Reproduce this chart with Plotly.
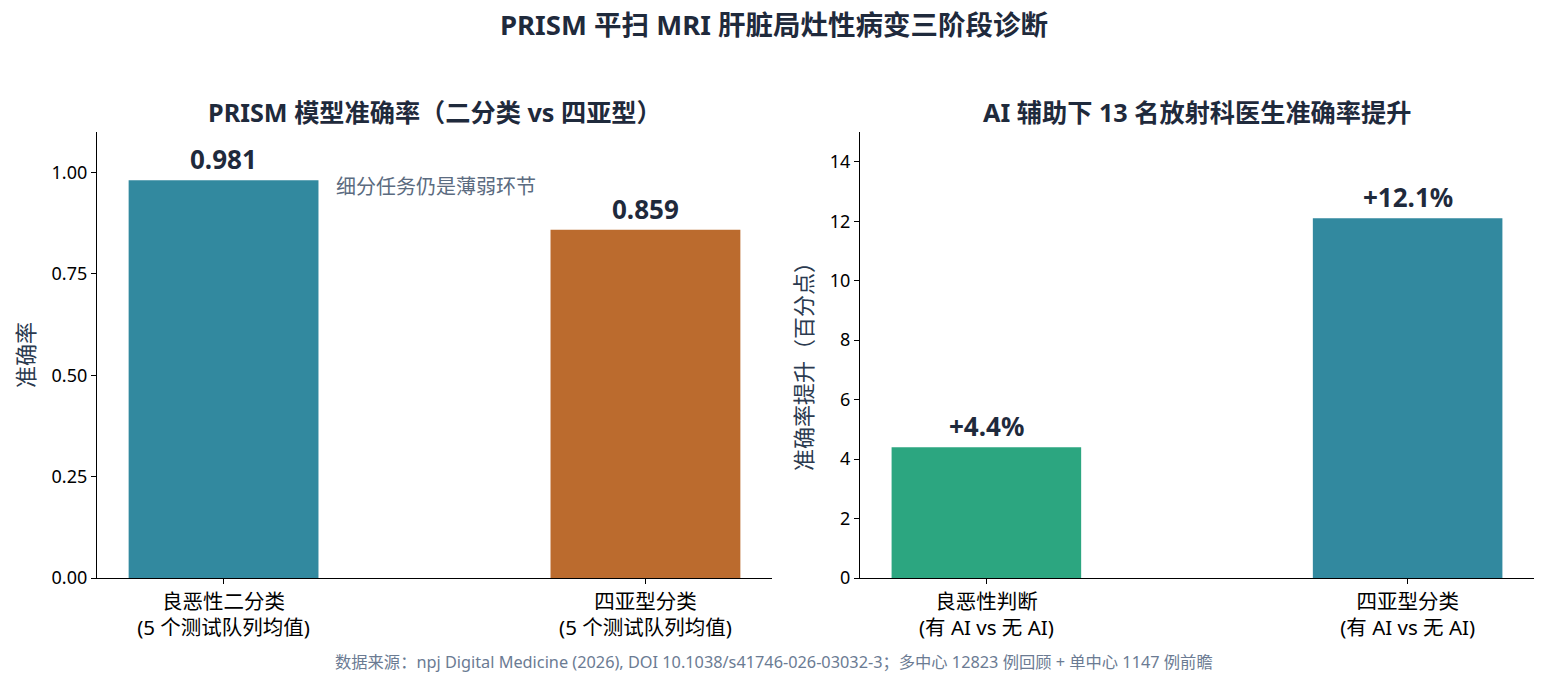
import plotly.graph_objects as go
from plotly.subplots import make_subplots

# 左图：PRISM 模型准确率
acc_labels = ["良恶性二分类<br>(5 个测试队列均值)", "四亚型分类<br>(5 个测试队列均值)"]
acc_values = [0.981, 0.859]
acc_text = ["0.981", "0.859"]
acc_colors = ["#32899f", "#bb6b2e"]

# 右图：AI 辅助下准确率提升（百分点）
gain_labels = ["良恶性判断<br>(有 AI vs 无 AI)", "四亚型分类<br>(有 AI vs 无 AI)"]
gain_values = [4.4, 12.1]
gain_text = ["+4.4%", "+12.1%"]
gain_colors = ["#2ca680", "#32899f"]

FONT = "Noto Sans, Noto Sans CJK SC, sans-serif"
DARK = "#1f2a3c"
W, H = 1547, 685


def paper_text(x_px, y_px, text, size, color, angle=0):
    # place a free text by pixel position on the full figure
    fig.add_annotation(x=x_px / W, y=1 - y_px / H, xref="paper", yref="paper",
                       text=text, showarrow=False, xanchor="center", yanchor="middle",
                       textangle=angle, font=dict(size=size, color=color, family=FONT))


fig = make_subplots(rows=1, cols=2)

fig.add_trace(go.Bar(x=list(range(len(acc_values))), y=acc_values,
                     marker=dict(color=acc_colors, line=dict(width=0)),
                     width=0.45, showlegend=False, hoverinfo="y"), row=1, col=1)
fig.add_trace(go.Bar(x=list(range(len(gain_values))), y=gain_values,
                     marker=dict(color=gain_colors, line=dict(width=0)),
                     width=0.45, showlegend=False, hoverinfo="y"), row=1, col=2)

# value labels above bars
for i, (v, t) in enumerate(zip(acc_values, acc_text)):
    fig.add_annotation(x=i, y=v, xref="x", yref="y", text=f"<b>{t}</b>",
                       showarrow=False, xanchor="center", yanchor="bottom", yshift=1,
                       font=dict(size=26, color=DARK, family=FONT))
for i, (v, t) in enumerate(zip(gain_values, gain_text)):
    fig.add_annotation(x=i, y=v, xref="x2", yref="y2", text=f"<b>{t}</b>",
                       showarrow=False, xanchor="center", yanchor="bottom", yshift=1,
                       font=dict(size=26, color=DARK, family=FONT))

fig.add_annotation(x=0.262, y=0.965, xref="x", yref="y", text="细分任务仍是薄弱环节",
                   showarrow=False, xanchor="left", yanchor="middle",
                   font=dict(size=20, color="#5b6b80", family=FONT))

# titles
paper_text(W / 2, 25, "<b>PRISM 平扫 MRI 肝脏局灶性病变三阶段诊断</b>", 27.5, DARK)
paper_text((97 + 772) / 2, 112, "<b>PRISM 模型准确率（二分类 vs 四亚型）</b>", 25.2, DARK)
paper_text((860 + 1534) / 2, 112, "<b>AI 辅助下 13 名放射科医生准确率提升</b>", 25.2, DARK)

# y axis titles
paper_text(25, 355, "准确率", 22, "#2b3a4f", angle=-90)
paper_text(803, 361, "准确率提升（百分点）", 22, "#2b3a4f", angle=-90)

# footer
paper_text(W / 2, 662, "数据来源：npj Digital Medicine (2026), DOI 10.1038/s41746-026-03032-3；"
           "多中心 12823 例回顾 + 单中心 1147 例前瞻", 16.3, "#6b7b93")

axis_common = dict(showline=True, linecolor="black", linewidth=1.3, ticks="outside",
                   ticklen=5, tickcolor="black", showgrid=False, zeroline=False,
                   automargin=False, tickfont=dict(size=18, color="black", family=FONT))

fig.update_xaxes(axis_common)
fig.update_yaxes(axis_common)

y_dom = [1 - 578 / H, 1 - 132 / H]
fig.update_layout(
    xaxis=dict(domain=[97 / W, 772 / W], range=[-0.3, 1.3], tickvals=[0, 1], ticktext=acc_labels,
               tickfont=dict(size=20.5)),
    xaxis2=dict(domain=[860 / W, 1534 / W], range=[-0.3, 1.3], tickvals=[0, 1], ticktext=gain_labels,
                tickfont=dict(size=20.5)),
    yaxis=dict(domain=y_dom, range=[0, 1.1], tickvals=[0, 0.25, 0.5, 0.75, 1.0], tickformat=".2f"),
    yaxis2=dict(domain=y_dom, range=[0, 15], tickvals=[0, 2, 4, 6, 8, 10, 12, 14]),
    width=W, height=H,
    margin=dict(l=0, r=0, t=0, b=0, autoexpand=False),
    plot_bgcolor="white", paper_bgcolor="white",
    font=dict(family=FONT),
)

# drop the default page margin so the figure sits at the window's top-left corner
fig.write_html("out.html", config={"displayModeBar": False},
               post_script="document.body.style.margin='0';")
